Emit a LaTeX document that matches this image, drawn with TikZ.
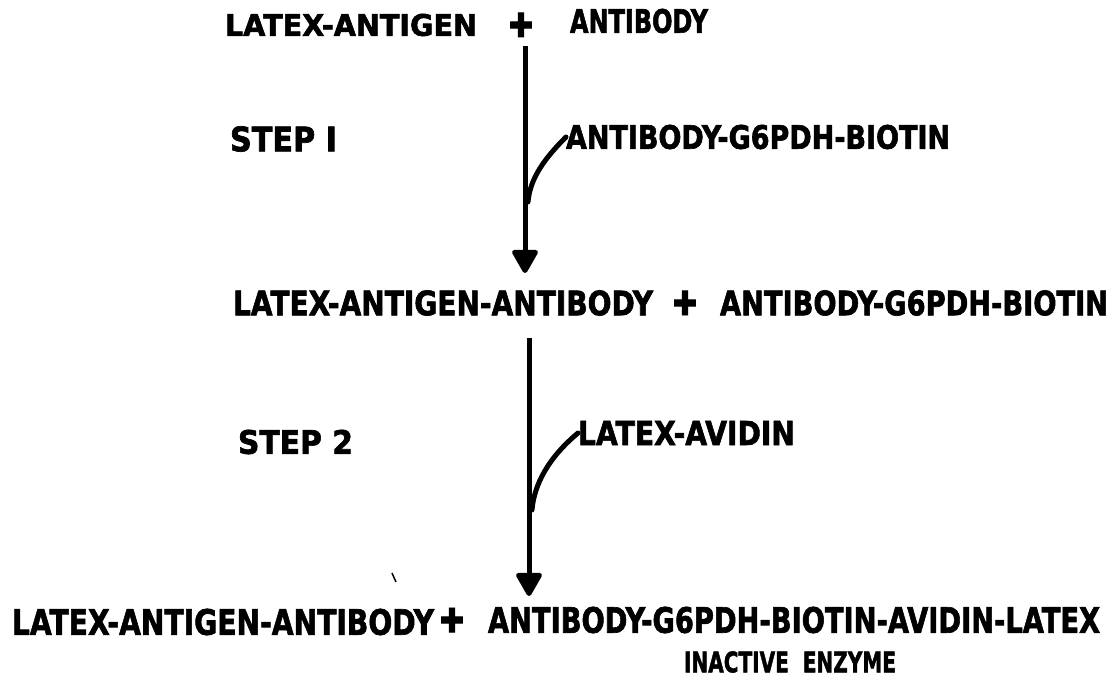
\documentclass[tikz,border=0pt]{standalone}
\usepackage{fontspec}
\usetikzlibrary{arrows.meta}
\newfontfamily\heavy{DejaVu Sans Bold}[FakeBold=2]
\newfontfamily\symfont{DejaVu Sans Bold}[FakeBold=3]
% text set to a given width and cap height (in pt)
\newcommand{\fitlabel}[3]{\resizebox{#1pt}{#2pt}{\heavy #3}}
\newcommand{\plussign}{\resizebox*{24pt}{24pt}{\symfont ✚}}
\tikzset{
  lbl/.style={inner sep=0pt, outer sep=0pt, anchor=west},
  flow/.style={line width=5pt, -{Triangle[width=28pt,length=26pt,round]}},
  branch/.style={line width=5pt, line cap=round},
}
\begin{document}
\begin{tikzpicture}[x=1pt,y=-1pt]
\useasboundingbox (0,0) rectangle (1113,684);
\fill[white] (0,0) rectangle (1113,684);

% top line
\node[lbl] (la) at (225,25) {\fitlabel{252}{22}{LATEX-ANTIGEN}};
\node[lbl, anchor=center] (p1) at (521,25) {\plussign};
\node[lbl] (lb) at (570,21) {\fitlabel{138}{24}{ANTIBODY}};

% step 1
\node[lbl] (s1) at (230,139) {\fitlabel{107}{25}{STEP I}};
\node[lbl] (r1) at (566,137) {\fitlabel{384}{24}{ANTIBODY-G6PDH-BIOTIN}};
\coordinate (a1s) at (525,46);
\coordinate (a1e) at (525,273);
\coordinate (j1) at (528,202);
\draw[flow] (a1s) -- (a1e);
\draw[branch] (j1) .. controls (530,178) and (545,158) .. (r1.west);

% middle line
\node[lbl] (ma) at (233,303) {\fitlabel{420}{25}{LATEX-ANTIGEN-ANTIBODY}};
\node[lbl, anchor=center] (p2) at (685,303) {\plussign};
\node[lbl] (mb) at (720,303) {\fitlabel{388}{25}{ANTIBODY-G6PDH-BIOTIN}};

% step 2
\node[lbl] (s2) at (238,442) {\fitlabel{115}{24}{STEP 2}};
\node[lbl] (r2) at (578,433) {\fitlabel{217}{24}{LATEX-AVIDIN}};
\coordinate (a2s) at (529,338);
\coordinate (a2e) at (529,596);
\coordinate (j2) at (532,510);
\draw[flow] (a2s) -- (a2e);
\draw[branch] (j2) .. controls (534,485) and (548,458) .. (r2.west);

% bottom line
\node[lbl] (ba) at (12,622) {\fitlabel{422}{26}{LATEX-ANTIGEN-ANTIBODY}};
\node[lbl, anchor=center] (p3) at (452,620) {\plussign};
\node[lbl] (bb) at (488,620) {\fitlabel{612}{26}{ANTIBODY-G6PDH-BIOTIN-AVIDIN-LATEX}};
\node[lbl] (ie) at (684,662) {\fitlabel{212}{21}{INACTIVE\ \ ENZYME}};

% small stray stroke left of the lower arrow
\draw[line width=1.5pt] (392,573) -- (396,582);
\end{tikzpicture}
\end{document}
